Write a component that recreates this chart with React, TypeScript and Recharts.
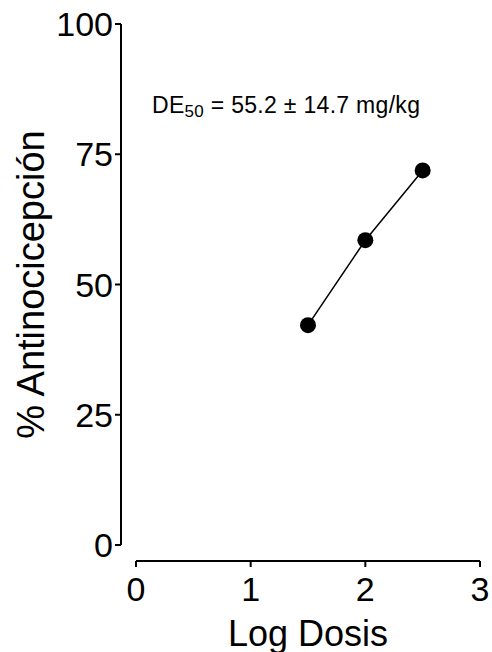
import React from 'react';
import { ComposedChart, Line, XAxis, YAxis, Label } from 'recharts';

// Log dose vs % antinociception
const logDosis = [1.5, 2, 2.5];
const antinocicepcion = [42.2, 58.5, 71.9];
const xTicks = [0, 1, 2, 3];
const yTicks = [0, 25, 50, 75, 100];

const data = logDosis.map((x, i) => ({ x, y: antinocicepcion[i] }));

const FONT = 'Liberation Sans, Arial, sans-serif';
const Y_SHIFT = 15; // y axis is drawn detached to the left of the plot
const X_SHIFT = 16; // x axis is drawn detached below the plot

const YTick = (props: any) => {
  const { x, y, payload } = props;
  return (
    <text x={x - Y_SHIFT} y={y} dy={12} textAnchor="end" fontSize={34} fontFamily={FONT} fill="#000">
      {payload.value}
    </text>
  );
};

const XTick = (props: any) => {
  const { x, y, payload } = props;
  return (
    <text x={x} y={y + X_SHIFT} dy={32} textAnchor="middle" fontSize={34} fontFamily={FONT} fill="#000">
      {payload.value}
    </text>
  );
};

const App: React.FC = () => {
  return (
    <div style={{ position: 'absolute', left: 0, top: 0, width: 492, height: 652, background: '#fff' }}>
      <ComposedChart
        width={492}
        height={652}
        data={data}
        margin={{ top: 24, right: 12, left: 0, bottom: 0 }}
      >
        <XAxis
          dataKey="x"
          type="number"
          domain={[0, 3]}
          ticks={xTicks}
          height={107}
          tickSize={6}
          axisLine={{ stroke: '#000', strokeWidth: 2, transform: `translate(0,${X_SHIFT})` }}
          tickLine={{ stroke: '#000', strokeWidth: 2, transform: `translate(0,${X_SHIFT})` }}
          tick={<XTick />}
        >
          <Label
            content={(p: any) => {
              const vb = p.viewBox;
              return (
                <text x={vb.x + vb.width / 2} y={646} textAnchor="middle" fontSize={36} fontFamily={FONT} fill="#000">
                  Log Dosis
                </text>
              );
            }}
          />
        </XAxis>
        <YAxis
          type="number"
          domain={[0, 100]}
          ticks={yTicks}
          width={136}
          tickSize={6}
          axisLine={{ stroke: '#000', strokeWidth: 2, transform: `translate(-${Y_SHIFT},0)` }}
          tickLine={{ stroke: '#000', strokeWidth: 2, transform: `translate(-${Y_SHIFT},0)` }}
          tick={<YTick />}
        >
          <Label
            content={(p: any) => {
              const vb = p.viewBox;
              const cy = vb.y + vb.height / 2;
              return (
                <text
                  x={44}
                  y={cy}
                  transform={`rotate(-90, 44, ${cy})`}
                  textAnchor="middle"
                  fontSize={38}
                  fontFamily={FONT}
                  fill="#000"
                >
                  % Antinocicepción
                </text>
              );
            }}
          />
        </YAxis>
        <Line
          dataKey="y"
          stroke="#000"
          strokeWidth={1.5}
          dot={{ r: 8, fill: '#000', stroke: '#000', strokeWidth: 0 }}
          activeDot={false}
          isAnimationActive={false}
        />
      </ComposedChart>
      <svg width={492} height={652} style={{ position: 'absolute', left: 0, top: 0, pointerEvents: 'none' }}>
        <text x={152} y={113} fontSize={23} letterSpacing={0.3} fontFamily={FONT} fill="#000">
          DE
          <tspan fontSize={17} dy={4}>50</tspan>
          <tspan dy={-4}> = 55.2 ± 14.7 mg/kg</tspan>
        </text>
      </svg>
    </div>
  );
};

export default App;
